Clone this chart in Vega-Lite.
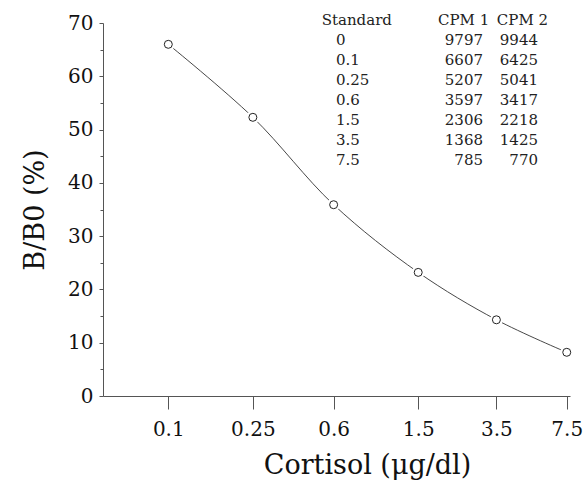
{
  "$schema": "https://vega.github.io/schema/vega-lite/v6.json",
  "width": 467,
  "height": 373,
  "autosize": {"type": "none"},
  "padding": {"left": 103, "top": 23, "right": 13, "bottom": 90},
  "background": "white",
  "config": {
    "view": {"stroke": null},
    "font": "DejaVu Serif",
    "axis": {
      "grid": false,
      "domainColor": "#555",
      "tickColor": "#555",
      "labelColor": "#111",
      "titleColor": "#111",
      "labelFont": "DejaVu Serif",
      "titleFont": "DejaVu Serif",
      "labelFontSize": 20,
      "titleFontSize": 27,
      "titleFontWeight": "normal"
    }
  },
  "datasets": {
    "curve": [
      {"dose": 0.1, "bb0": 66.0},
      {"dose": 0.25, "bb0": 52.3},
      {"dose": 0.6, "bb0": 35.9},
      {"dose": 1.5, "bb0": 23.2},
      {"dose": 3.5, "bb0": 14.3},
      {"dose": 7.5, "bb0": 8.2}
    ],
    "table": [
      {"standard": "0", "cpm1": 9797, "cpm2": 9944},
      {"standard": "0.1", "cpm1": 6607, "cpm2": 6425},
      {"standard": "0.25", "cpm1": 5207, "cpm2": 5041},
      {"standard": "0.6", "cpm1": 3597, "cpm2": 3417},
      {"standard": "1.5", "cpm1": 2306, "cpm2": 2218},
      {"standard": "3.5", "cpm1": 1368, "cpm2": 1425},
      {"standard": "7.5", "cpm1": 785, "cpm2": 770}
    ]
  },
  "layer": [
    {
      "data": {"name": "curve"},
      "encoding": {
        "x": {
          "field": "dose",
          "type": "quantitative",
          "scale": {"type": "log", "domain": [0.04928, 7.77], "nice": false},
          "axis": {
            "values": [0.1, 0.25, 0.6, 1.5, 3.5, 7.5],
            "format": "~g",
            "tickSize": 13,
            "labelPadding": 10,
            "labelFlush": false,
            "labelOverlap": false,
            "title": "Cortisol (μg/dl)",
            "titlePadding": 13,
            "titleX": 264
          }
        },
        "y": {
          "field": "bb0",
          "type": "quantitative",
          "scale": {"domain": [0, 70], "nice": false, "zero": true},
          "axis": {
            "values": [0, 10, 20, 30, 40, 50, 60, 70],
            "tickSize": 4,
            "labelPadding": 6,
            "title": "B/B0 (%)",
            "titlePadding": 18
          }
        }
      },
      "layer": [
        {"mark": {"type": "line", "interpolate": "catmull-rom", "color": "#333", "strokeWidth": 0.9}},
        {"mark": {"type": "point", "shape": "circle", "filled": true, "color": "white", "size": 170, "opacity": 1}},
        {"mark": {"type": "point", "shape": "circle", "filled": false, "fill": "white", "stroke": "#222", "strokeWidth": 1, "size": 64, "opacity": 1}}
      ]
    },
    {
      "data": {"name": "curve"},
      "mark": {"type": "point", "opacity": 0},
      "encoding": {
        "x": {"field": "dose", "type": "quantitative", "scale": {"type": "log", "domain": [0.04928, 7.77], "nice": false}},
        "y": {
          "field": "bb0",
          "type": "quantitative",
          "scale": {"domain": [0, 70], "nice": false},
          "axis": {"orient": "left", "values": [5, 15, 25, 35, 45, 55, 65], "tickSize": 3, "labels": false, "domain": false, "title": null, "tickColor": "#555"}
        }
      }
    },
    {
      "data": {"values": [{"h": "Standard"}]},
      "mark": {"type": "text", "align": "left", "baseline": "middle", "fontSize": 15, "color": "#222", "font": "DejaVu Serif"},
      "encoding": {
        "x": {"datum": 0.527, "type": "quantitative", "scale": {"type": "log", "domain": [0.04928, 7.77], "nice": false}},
        "y": {"datum": "header", "type": "ordinal", "scale": {"type": "point", "domain": ["header", "0", "0.1", "0.25", "0.6", "1.5", "3.5", "7.5"], "range": [-3, 137], "padding": 0}, "axis": null},
        "text": {"field": "h"}
      }
    },
    {
      "data": {"values": [{"h": "CPM 1"}]},
      "mark": {"type": "text", "align": "center", "baseline": "middle", "fontSize": 15, "color": "#222", "font": "DejaVu Serif"},
      "encoding": {
        "x": {"datum": 2.455, "type": "quantitative", "scale": {"type": "log", "domain": [0.04928, 7.77], "nice": false}},
        "y": {"datum": "header", "type": "ordinal", "scale": {"type": "point", "domain": ["header", "0", "0.1", "0.25", "0.6", "1.5", "3.5", "7.5"], "range": [-3, 137], "padding": 0}, "axis": null},
        "text": {"field": "h"}
      }
    },
    {
      "data": {"values": [{"h": "CPM 2"}]},
      "mark": {"type": "text", "align": "center", "baseline": "middle", "fontSize": 15, "color": "#222", "font": "DejaVu Serif"},
      "encoding": {
        "x": {"datum": 4.643, "type": "quantitative", "scale": {"type": "log", "domain": [0.04928, 7.77], "nice": false}},
        "y": {"datum": "header", "type": "ordinal", "scale": {"type": "point", "domain": ["header", "0", "0.1", "0.25", "0.6", "1.5", "3.5", "7.5"], "range": [-3, 137], "padding": 0}, "axis": null},
        "text": {"field": "h"}
      }
    },
    {
      "data": {"name": "table"},
      "mark": {"type": "text", "align": "left", "baseline": "middle", "fontSize": 15, "color": "#222", "font": "DejaVu Serif"},
      "encoding": {
        "x": {"datum": 0.615, "type": "quantitative", "scale": {"type": "log", "domain": [0.04928, 7.77], "nice": false}},
        "y": {"field": "standard", "type": "ordinal", "scale": {"type": "point", "domain": ["header", "0", "0.1", "0.25", "0.6", "1.5", "3.5", "7.5"], "range": [-3, 137], "padding": 0}, "axis": null},
        "text": {"field": "standard"}
      }
    },
    {
      "data": {"name": "table"},
      "mark": {"type": "text", "align": "right", "baseline": "middle", "fontSize": 15, "color": "#222", "font": "DejaVu Serif"},
      "encoding": {
        "x": {"datum": 3.027, "type": "quantitative", "scale": {"type": "log", "domain": [0.04928, 7.77], "nice": false}},
        "y": {"field": "standard", "type": "ordinal", "scale": {"type": "point", "domain": ["header", "0", "0.1", "0.25", "0.6", "1.5", "3.5", "7.5"], "range": [-3, 137], "padding": 0}, "axis": null},
        "text": {"field": "cpm1", "type": "quantitative", "format": "d"}
      }
    },
    {
      "data": {"name": "table"},
      "mark": {"type": "text", "align": "right", "baseline": "middle", "fontSize": 15, "color": "#222", "font": "DejaVu Serif"},
      "encoding": {
        "x": {"datum": 5.493, "type": "quantitative", "scale": {"type": "log", "domain": [0.04928, 7.77], "nice": false}},
        "y": {"field": "standard", "type": "ordinal", "scale": {"type": "point", "domain": ["header", "0", "0.1", "0.25", "0.6", "1.5", "3.5", "7.5"], "range": [-3, 137], "padding": 0}, "axis": null},
        "text": {"field": "cpm2", "type": "quantitative", "format": "d"}
      }
    }
  ],
  "resolve": {"scale": {"y": "independent"}}
}
